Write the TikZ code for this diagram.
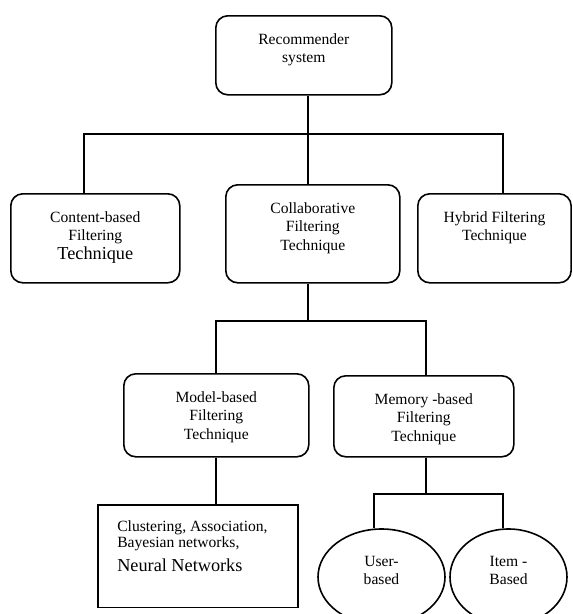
\documentclass[tikz,border=0pt]{standalone}
\usepackage{fontspec}
\setmainfont{Liberation Serif}
\usepackage{graphicx}
\usepackage{tikz}
\usetikzlibrary{positioning, shapes.geometric}

\begin{document}
\begin{tikzpicture}[
  x=0.75pt, y=-0.75pt,
  box/.style={draw, line width=1.2pt, rounded corners=9pt, anchor=north west, inner sep=0pt},
  leaf/.style={draw, line width=1.2pt, ellipse, inner sep=0pt, minimum height=72pt},
  txt/.style={align=center, inner sep=0pt, font=\rmfamily\fontsize{11.7}{14}\selectfont},
  link/.style={line width=1pt}
]
  \useasboundingbox (0,0) rectangle (572,614);

  % --- Level 0: root ---
  \node[box, minimum width=132pt, minimum height=59.25pt] (rs) at (215,15) {};
  \node[txt, below=13.5pt of rs.north] (rs-t) {Recommender\\system};

  % --- Level 1: three techniques ---
  \node[box, minimum width=126.75pt, minimum height=66.75pt] (cbf) at (10,193) {};
  \node[txt, below=13.5pt of cbf.north] (cbf-t) {Content-based\\Filtering\\\scalebox{1.17}{Technique}};
  \node[box, minimum width=130.5pt, minimum height=73.5pt] (cf) at (225,184) {};
  \node[txt, below=13.5pt of cf.north] (cf-t) {Collaborative\\Filtering\\Technique};
  \node[box, minimum width=115pt, minimum height=66.75pt] (hf) at (417,193) {};
  \node[txt, below=13.5pt of hf.north] (hf-t) {Hybrid Filtering\\Technique};

  % --- Level 2: collaborative split ---
  \node[box, minimum width=138.75pt, minimum height=62.25pt] (mb) at (123,373) {};
  \node[txt, below=13.5pt of mb.north] (mb-t) {Model-based\\Filtering\\Technique};
  \node[box, minimum width=135pt, minimum height=60.75pt] (mem) at (333,375) {};
  \node[txt, below=13.5pt of mem.north] (mem-t) {Memory -based\\Filtering\\Technique};

  % --- Level 3: leaves ---
  \node[box, rounded corners=0pt, minimum width=150pt, minimum height=77pt] (cl) at (97,504) {};
  \node[txt, align=left, font=\rmfamily\fontsize{11.7}{12}\selectfont, anchor=north west,
        below right=12pt and 15pt of cl.north west] (cl-t)
    {Clustering, Association,\\Bayesian networks,\\[5.25pt]\scalebox{1.17}{Neural Networks}};
  \node[leaf, minimum width=95.25pt] (ub) at (381.5,577) {};
  \node[txt] (ub-t) at ([yshift=5pt]ub.center) {User-\\based};
  \node[leaf, minimum width=87.75pt] (ib) at (508.5,577) {};
  \node[txt] (ib-t) at ([yshift=5pt]ib.center) {Item -\\Based};

  % junctions
  \coordinate (j1) at (308,134);
  \coordinate (jl) at (84,134);
  \coordinate (jr) at (503,134);
  \coordinate (j2) at (308,321);
  \coordinate (ja) at (216,321);
  \coordinate (jb) at (426,321);
  \coordinate (jc) at (374,494);
  \coordinate (jd) at (503,494);

  % connectors
  \draw[link] (j1 |- rs.south) -- (j1 |- cf.north);
  \draw[link] (jl |- cbf.north) -- (jl) -- (jr) -- (jr |- hf.north);
  \draw[link] (j2 |- cf.south) -- (j2);
  \draw[link] (ja |- mb.north) -- (ja) -- (jb) -- (jb |- mem.north);
  \draw[link] (ja |- mb.south) -- (ja |- cl.north);
  \draw[link] (jb |- mem.south) -- (jb |- jc);
  \draw[link] (jc |- ub.north) -- (jc) -- (jd) -- (jd |- ib.north);
\end{tikzpicture}
\end{document}
